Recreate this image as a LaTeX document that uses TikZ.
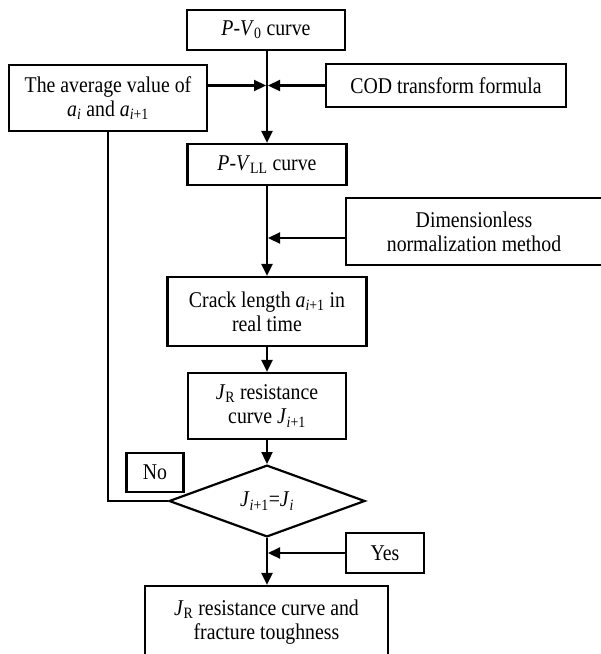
\documentclass[tikz,border=0pt]{standalone}
\usepackage{fontspec}
\setmainfont{Liberation Serif}[FakeStretch=0.88]
\usetikzlibrary{positioning, arrows.meta, shapes.geometric}
\newcommand{\flowfont}{\fontsize{22.5}{24}\selectfont}
\tikzset{
	stepbox/.style={rectangle, draw=black, line width=2.2pt, align=center,
		font=\flowfont, inner sep=0pt},
	checkbox/.style={diamond, draw=black, line width=2.2pt, font=\flowfont,
		inner sep=0pt, minimum width=196pt, minimum height=68pt},
	flowarr/.style={-{Triangle[length=12pt,width=11pt]}, line width=2.2pt},
	flowline/.style={line width=2.2pt}
}

\begin{document}
\begin{tikzpicture}[x=1pt, y=-1pt]
	\useasboundingbox (0,0) rectangle (601,654);
	\node[stepbox, minimum width=158pt, minimum height=40pt] (pvzero) at (266,30) {\textit{P}-\textit{V}\textsubscript{0} curve};
	\node[stepbox, minimum width=198pt, minimum height=66pt] (avg) at (108,98) {The average value of\\\textit{a}\textsubscript{\textit{i}} and \textit{a}\textsubscript{\textit{i}+1}};
	\node[stepbox, minimum width=240pt, minimum height=43pt] (cod) at (446,85.5) {COD transform formula};
	\node[stepbox, minimum width=159pt, minimum height=41pt] (pvll) at (267,164.5) {\textit{P}-\textit{V}\textsubscript{LL} curve};
	\node[stepbox, minimum width=256pt, minimum height=67pt] (dimless) at (474,231.5) {Dimensionless\\normalization method};
	\node[stepbox, minimum width=199pt, minimum height=69pt] (crack) at (267,311.5) {Crack length \textit{a}\textsubscript{\textit{i}+1} in\\real time};
	\node[stepbox, minimum width=158pt, minimum height=66pt] (jr) at (267,406) {\textit{J}\textsubscript{R} resistance\\curve \textit{J}\textsubscript{\textit{i}+1}};
	\node[checkbox] (check) at (267,501) {\textit{J}\textsubscript{\textit{i}+1}=\textit{J}\textsubscript{\textit{i}}};
	\node[stepbox, minimum width=57pt, minimum height=39pt] (no) at (155,472.5) {No};
	\node[stepbox, minimum width=78pt, minimum height=40pt] (yes) at (385,553) {Yes};
	\node[stepbox, minimum width=243pt, minimum height=72pt] (result) at (266.5,622) {\textit{J}\textsubscript{R} resistance curve and\\fracture toughness};
	% junctions on the main line
	\coordinate (jcod) at (check.north |- cod.west);
	\coordinate (jdim) at (check.north |- 0,238);
	\coordinate (jyes) at (check.south |- yes.west);
	\draw[flowarr] (pvzero.south -| check.north) -- (pvll.north -| check.north);
	\draw[flowarr, shorten >=1pt] (avg.east |- jcod) -- (jcod);
	\draw[flowarr, shorten >=1pt] (cod.west) -- (jcod);
	\draw[flowarr] (pvll.south) -- (crack.north);
	\draw[flowarr, shorten >=1pt] (dimless.west |- jdim) -- (jdim);
	\draw[flowarr] (crack) -- (jr);
	\draw[flowarr] (jr) -- (check);
	\draw[flowline] (check.west) -| (avg.south);
	\draw[flowarr] (check.south) -- (result.north -| check.south);
	\draw[flowarr, shorten >=1pt] (yes.west) -- (jyes);
\end{tikzpicture}
\end{document}
